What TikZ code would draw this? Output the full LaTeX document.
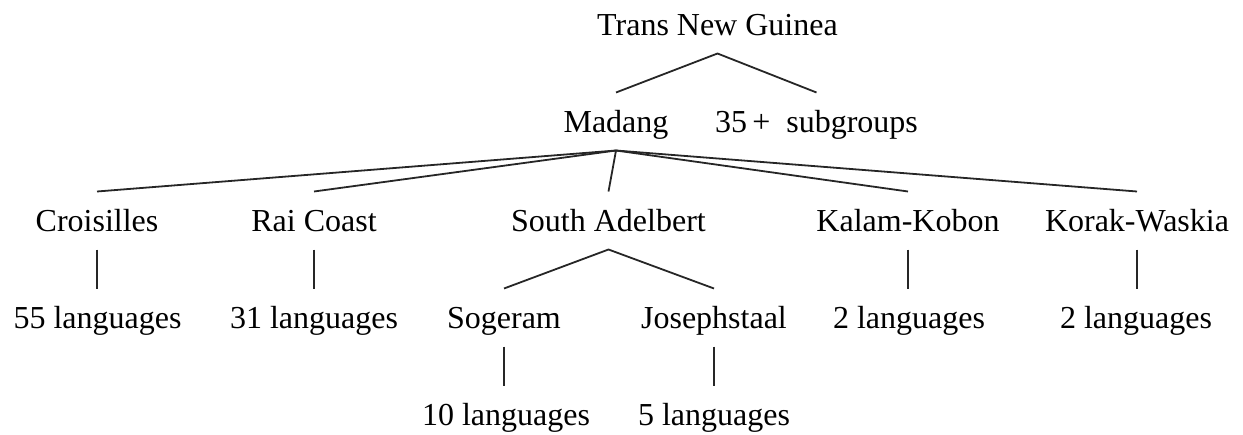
\documentclass[tikz,border=0pt]{standalone}
\usepackage{fontspec}
\setmainfont{Liberation Serif}
\begin{document}
\begin{tikzpicture}[x=1pt,y=-1pt,
  lbl/.style={anchor=base,inner xsep=0pt,inner ysep=18.5pt,outer sep=0pt,
    text height=21pt,text depth=0pt,font=\fontsize{32}{38}\selectfont},
  edge/.style={line width=1.8pt,draw=black!85}]
\useasboundingbox (0,0) rectangle (1243,434);
% level 0
\node[lbl] (tng) at (717.5,35) {Trans New Guinea};
% level 1
\node[lbl] (mad) at (616,132) {Madang};
\node[lbl] (sub) at (816.5,132) {35\,+\ \ subgroups};
% level 2
\node[lbl] (cro) at (97,231) {Croisilles};
\node[lbl] (rai) at (314,231) {Rai Coast};
\node[lbl] (sad) at (608.5,231) {South Adelbert};
\node[lbl] (kal) at (908,231) {Kalam-Kobon};
\node[lbl] (kor) at (1137,231) {Korak-Waskia};
% level 3
\node[lbl] (l55) at (97.5,328) {55 languages};
\node[lbl] (l31) at (314,328) {31 languages};
\node[lbl] (sog) at (504,328) {Sogeram};
\node[lbl] (jos) at (714,328) {Josephstaal};
\node[lbl] (lk2) at (909,328) {2 languages};
\node[lbl] (lw2) at (1136,328) {2 languages};
% level 4
\node[lbl] (l10) at (506,425) {10 languages};
\node[lbl] (l5) at (714,425) {5 languages};
% connectors
\draw[edge] (mad.north) -- (tng.south) -- (sub.north);
\draw[edge] (mad.south) -- (cro.north);
\draw[edge] (mad.south) -- (rai.north);
\draw[edge] (mad.south) -- (sad.north);
\draw[edge] (mad.south) -- (kal.north);
\draw[edge] (mad.south) -- (kor.north);
\draw[edge] (cro.south) -- (cro.south |- l55.north);
\draw[edge] (rai.south) -- (rai.south |- l31.north);
\draw[edge] (kal.south) -- (kal.south |- lk2.north);
\draw[edge] (kor.south) -- (kor.south |- lw2.north);
\draw[edge] (sog.north) -- (sad.south) -- (jos.north);
\draw[edge] (sog.south) -- (sog.south |- l10.north);
\draw[edge] (jos.south) -- (jos.south |- l5.north);
\end{tikzpicture}
\end{document}
